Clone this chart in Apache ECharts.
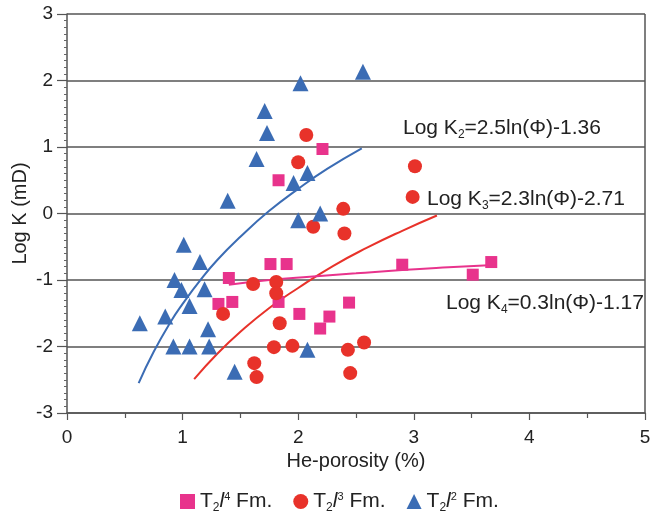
<!DOCTYPE html>
<html style="height: 100%">
    <head>
        <meta charset="utf-8">
    </head>
    <body style="height: 100%; margin: 0">
        <div id="container" style="width: 652px; height: 520px"></div>
        <script type="text/javascript" src="https://cdn.jsdelivr.net/npm/echarts@6/dist/echarts.min.js"></script>
        <script type="text/javascript">
var dom = document.getElementById("container");
var myChart = echarts.init(dom);

// He-porosity (%), Log K (mD)
var pointsL4 = [
    [2.21, 0.97], [1.83, 0.50], [1.76, -0.76], [1.90, -0.76], [1.40, -0.97],
    [1.31, -1.36], [1.43, -1.33], [1.83, -1.33], [2.01, -1.51], [2.19, -1.73],
    [2.27, -1.55], [2.44, -1.34], [2.90, -0.77], [3.51, -0.92], [3.67, -0.73]
];
var pointsL3 = [
    [2.07, 1.18], [2.00, 0.77], [3.01, 0.71], [2.99, 0.25], [2.39, 0.07],
    [2.40, -0.30], [2.13, -0.20], [1.61, -1.06], [1.81, -1.03], [1.81, -1.20],
    [1.35, -1.51], [1.84, -1.65], [1.79, -2.01], [1.95, -1.99], [1.62, -2.25],
    [1.64, -2.46], [2.43, -2.05], [2.57, -1.94], [2.45, -2.40]
];
var pointsL2 = [
    [2.56, 2.13], [2.02, 1.96], [1.71, 1.54], [1.73, 1.21], [1.64, 0.82],
    [1.96, 0.46], [2.08, 0.61], [1.39, 0.19], [2.00, -0.10], [2.19, 0.00],
    [1.01, -0.47], [1.15, -0.73], [0.93, -1.00], [0.99, -1.15], [1.19, -1.14],
    [1.06, -1.39], [0.63, -1.65], [0.85, -1.55], [1.22, -1.74], [0.92, -2.00],
    [1.06, -2.00], [1.23, -2.00], [2.08, -2.05], [1.45, -2.38]
];

// fitted curves
var fitK2 = [
    [0.62, -2.55], [0.75, -2.08], [0.9, -1.62], [1.0, -1.36], [1.15, -1.01],
    [1.3, -0.70], [1.5, -0.35], [1.75, 0.04], [2.0, 0.37], [2.25, 0.67], [2.55, 0.98]
];
var fitK3 = [
    [1.1, -2.49], [1.3, -2.11], [1.5, -1.78], [1.75, -1.42], [2.0, -1.12],
    [2.3, -0.79], [2.6, -0.51], [2.9, -0.26], [3.2, -0.03]
];
var fitK4 = [
    [1.4, -1.07], [1.75, -1.00], [2.1, -0.95], [2.5, -0.90], [2.9, -0.85],
    [3.3, -0.81], [3.65, -0.78]
];

var legendNames = ['T2l4', 'T2l3', 'T2l2'];
var legendText = {
    'T2l4': 'T{sub|2}{it|l}{sup|4} Fm.',
    'T2l3': 'T{sub|2}{it|l}{sup|3} Fm.',
    'T2l2': 'T{sub|2}{it|l}{sup|2} Fm.'
};

var pink = '#e8338c', red = '#e8322a', blue = '#3b6cb4';
var font = 'Liberation Sans';
var ink = '#222';

function eqText(x, y, k, body) {
    return {
        type: 'text', left: x, top: y,
        style: {
            text: '{main|Log K}{sub|' + k + '}{main|' + body + '}',
            rich: {
                main: {fontSize: 21, fontFamily: font, fill: ink},
                sub: {fontSize: 12, fontFamily: font, fill: ink, padding: [12, 0, 0, 0]}
            }
        }
    };
}

var option = {
    backgroundColor: '#fff',
    textStyle: {fontFamily: font},
    grid: {left: 67, right: 7, top: 14, bottom: 107, outerBoundsMode: 'none'},
    xAxis: {
        type: 'value', min: 0, max: 5, interval: 1,
        name: 'He-porosity (%)', nameLocation: 'middle', nameGap: 38,
        nameTextStyle: {fontSize: 20, color: ink},
        axisLine: {onZero: false, lineStyle: {color: '#555', width: 1.5}},
        axisTick: {length: 7, lineStyle: {color: '#555', width: 1.2}},
        minorTick: {show: true, splitNumber: 2, length: 5, lineStyle: {color: '#555', width: 1.2}},
        axisLabel: {fontSize: 19, color: ink, margin: 15},
        splitLine: {show: false}
    },
    yAxis: {
        type: 'value', min: -3, max: 3, interval: 1,
        name: 'Log K (mD)', nameLocation: 'middle', nameGap: 37, nameMoveOverlap: false,
        nameTextStyle: {fontSize: 20, color: ink},
        axisLine: {show: true, onZero: false, lineStyle: {color: '#555', width: 1.5}},
        axisTick: {length: 10, lineStyle: {color: '#555', width: 1.2}},
        minorTick: {show: true, splitNumber: 10, length: 3, lineStyle: {color: '#666', width: 1}},
        axisLabel: {fontSize: 19, color: ink, margin: 14},
        splitLine: {show: true, lineStyle: {color: '#555', width: 1.5}}
    },
    legend: {
        data: legendNames,
        top: 486, left: 175,
        itemGap: 21, itemWidth: 15, itemHeight: 15,
        formatter: function (name) { return legendText[name]; },
        textStyle: {
            fontSize: 21, color: ink,
            rich: {
                sub: {fontSize: 12, padding: [12, 0, 0, 0], color: ink},
                sup: {fontSize: 11, padding: [0, 0, 9, 0], color: ink},
                it: {fontSize: 21, fontStyle: 'italic', color: ink}
            }
        }
    },
    graphic: [
        {type: 'line', shape: {x1: 645, y1: 14, x2: 645, y2: 413}, style: {stroke: '#555', lineWidth: 1.5}},
        eqText(403, 118, '2', '=2.5ln(Φ)-1.36'),
        eqText(427, 189, '3', '=2.3ln(Φ)-2.71'),
        eqText(446, 293, '4', '=0.3ln(Φ)-1.17')
    ],
    series: [
        {
            name: 'fitK2', type: 'line', data: fitK2, smooth: true, showSymbol: false,
            lineStyle: {color: blue, width: 2}, z: 1, silent: true
        },
        {
            name: 'fitK3', type: 'line', data: fitK3, smooth: true, showSymbol: false,
            lineStyle: {color: red, width: 2}, z: 1, silent: true
        },
        {
            name: 'fitK4', type: 'line', data: fitK4, smooth: true, showSymbol: false,
            lineStyle: {color: pink, width: 2}, z: 1, silent: true
        },
        {
            name: 'T2l4', type: 'scatter', data: pointsL4, symbol: 'rect', symbolSize: 12,
            itemStyle: {color: pink, opacity: 1}, z: 3
        },
        {
            name: 'T2l3', type: 'scatter', data: pointsL3, symbol: 'circle', symbolSize: 14,
            itemStyle: {color: red, opacity: 1}, z: 3
        },
        {
            name: 'T2l2', type: 'scatter', data: pointsL2, symbol: 'triangle', symbolSize: 16,
            itemStyle: {color: blue, opacity: 1}, z: 3
        }
    ]
};

myChart.setOption(option);
        </script>
    </body>
</html>
